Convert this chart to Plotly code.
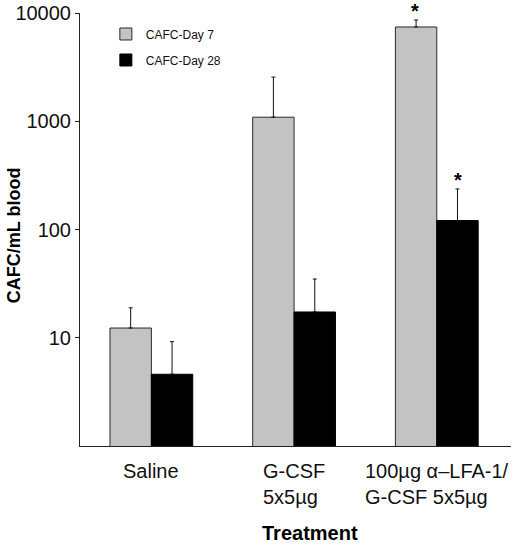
import math
import plotly.graph_objects as go

categories = ["Saline", "G-CSF<br>5x5µg", "100µg α–LFA-1/<br>G-CSF 5x5µg"]
day7 = [12.3, 1090, 7430]
day7_err = [6.6, 1470, 1190]
day28 = [4.6, 17.3, 121]
day28_err = [4.6, 17.6, 116]
y_tickvals = [10, 100, 1000, 10000]
y_ticktext = ["10", "100", "1000", "10000"]
significant = [2]  # index of treatment marked with *

FONT = "Liberation Sans, Arial, sans-serif"
NARROW = "Liberation Sans Narrow, Arial Narrow, Liberation Sans, Arial, sans-serif"

x_idx = list(range(len(categories)))

fig = go.Figure()
fig.add_trace(go.Bar(
    x=x_idx, y=day7, name="CAFC-Day 7", legendgroup="a",
    marker=dict(color="#c3c3c3", line=dict(color="#2a2a2a", width=1)),
    error_y=dict(type="data", array=day7_err, arrayminus=[0] * 3, symmetric=False,
                 color="#111", thickness=1, width=2),
))
fig.add_trace(go.Bar(
    x=x_idx, y=day28, name="CAFC-Day 28", legendgroup="b",
    marker=dict(color="#000000", line=dict(color="#000000", width=1)),
    error_y=dict(type="data", array=day28_err, arrayminus=[0] * 3, symmetric=False,
                 color="#111", thickness=1, width=2),
))

annotations = []
# category labels (left-aligned multi-line)
for i, c in enumerate(categories):
    annotations.append(dict(
        x=i, xref="x", y=0, yref="paper", yanchor="top", yshift=-12,
        text=c, showarrow=False, align="left",
        font=dict(family=FONT, size=20, color="#111"),
    ))
# significance asterisks
for i in significant:
    for vals, errs, shift in ((day7, day7_err, -21.5), (day28, day28_err, 21.5)):
        annotations.append(dict(
            x=i, xref="x", y=math.log10(vals[i] + errs[i]), yref="y",
            xshift=shift, yshift=9, yanchor="middle",
            text="<b>*</b>", showarrow=False,
            font=dict(family=FONT, size=20, color="#000"),
        ))
# axis titles
annotations.append(dict(
    x=0.534, xref="paper", y=0, yref="paper", yanchor="middle", yshift=-87,
    text="<b>Treatment</b>", showarrow=False,
    font=dict(family=FONT, size=20, color="#000"),
))
annotations.append(dict(
    x=-0.154, xref="paper", y=0.486, yref="paper", xanchor="center", yanchor="middle",
    text="<b>CAFC/mL blood</b>", textangle=-90, showarrow=False,
    font=dict(family=FONT, size=18, color="#000"),
))

fig.update_layout(
    width=520, height=545,
    margin=dict(l=80, r=9, t=13, b=99, autoexpand=False),
    paper_bgcolor="white", plot_bgcolor="white",
    barmode="group", bargap=0.42, bargroupgap=0,
    showlegend=True,
    legend=dict(x=0.06, y=0.985, xanchor="left", yanchor="top",
                font=dict(family=NARROW, size=12, color="#111"),
                tracegroupgap=7, itemwidth=30, bgcolor="rgba(0,0,0,0)"),
    annotations=annotations,
    font=dict(family=FONT),
)
fig.update_xaxes(
    range=[-0.5, 2.52], showticklabels=False, ticks="", automargin=False,
    showline=True, linecolor="#222", linewidth=1, showgrid=False, zeroline=False,
)
fig.update_yaxes(
    type="log", range=[0, 4], tickvals=y_tickvals, ticktext=y_ticktext,
    ticks="outside", ticklen=4, tickcolor="#222", automargin=False,
    showline=True, linecolor="#222", linewidth=1, showgrid=False, zeroline=False,
    tickfont=dict(family=FONT, size=20, color="#111"),
)

# remove the browser's default 8px body margin so the figure fills the window
fig.write_html("out.html", config={"displayModeBar": False},
               post_script="document.body.style.margin='0';")
